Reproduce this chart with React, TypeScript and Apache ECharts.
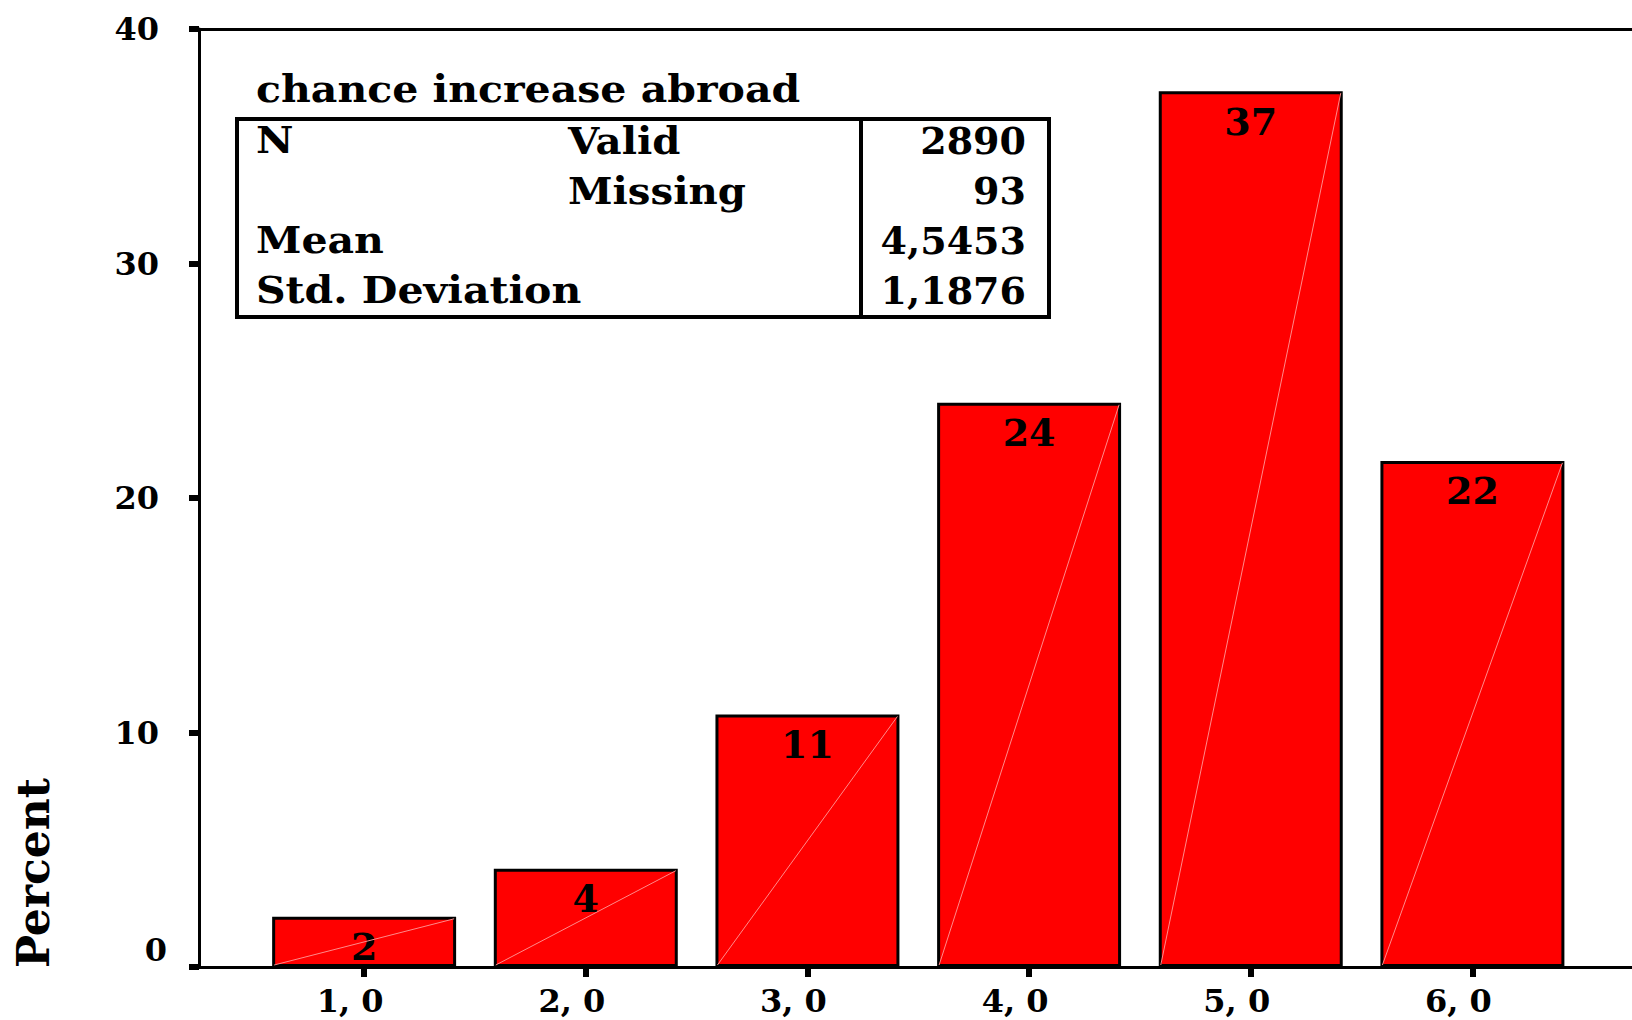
import React, { useEffect, useRef } from "react";
import * as echarts from "echarts";

const categories = [1, 2, 3, 4, 5, 6];
const categoryLabels = ["1, 0", "2, 0", "3, 0", "4, 0", "5, 0", "6, 0"];
const percents = [2.14, 4.19, 10.77, 24.06, 37.35, 21.58];
const barLabels = ["2", "4", "11", "24", "37", "22"];
const yTicks = [0, 10, 20, 30, 40];
const yAxisTitle = "Percent";
const statTitle = "chance increase abroad";
const statLabels = ["N", "", "Mean", "Std. Deviation"];
const statSubLabels = ["Valid", "Missing", "", ""];
const statValues = ["2890", "93", "4,5453", "1,1876"];

const FONT = "'DejaVu Serif', serif";

export default function App() {
  const ref = useRef<HTMLDivElement>(null);
  useEffect(() => {
    if (!ref.current) return;
    const chart = echarts.init(ref.current, null, { renderer: "svg" });
    const rowY = [140, 190, 240, 290];
    const tf = `bold 38px ${FONT}`;
    const graphics: any[] = [
      {
        type: "text",
        x: 33,
        y: 873,
        rotation: Math.PI / 2,
        style: {
          text: yAxisTitle,
          font: `bold 44px ${FONT}`,
          fill: "#000",
          align: "center",
          verticalAlign: "middle",
        },
      },
      {
        type: "text",
        x: 256,
        y: 89,
        scaleX: 1.08,
        style: { text: statTitle, font: tf, fill: "#000", align: "left", verticalAlign: "middle" },
      },
      {
        type: "rect",
        shape: { x: 237, y: 119, width: 812, height: 198 },
        style: { fill: "none", stroke: "#000", lineWidth: 4 },
      },
      {
        type: "line",
        shape: { x1: 861, y1: 119, x2: 861, y2: 317 },
        style: { stroke: "#000", lineWidth: 4 },
      },
    ];
    statLabels.forEach((t, i) => {
      if (t)
        graphics.push({
          type: "text",
          x: 256,
          y: rowY[i],
          scaleX: 1.08,
          style: { text: t, font: tf, fill: "#000", align: "left", verticalAlign: "middle" },
        });
      if (statSubLabels[i])
        graphics.push({
          type: "text",
          x: 568,
          y: rowY[i],
          scaleX: 1.06,
          style: { text: statSubLabels[i], font: tf, fill: "#000", align: "left", verticalAlign: "middle" },
        });
      graphics.push({
        type: "text",
        x: 1026,
        y: rowY[i],
        style: { text: statValues[i], font: tf, fill: "#000", align: "right", verticalAlign: "middle" },
      });
    });

    const labelFont = { fontFamily: FONT, fontWeight: "bold", fontSize: 32, color: "#000" };

    chart.setOption({
      animation: false,
      backgroundColor: "#fff",
      grid: {
        left: 199,
        top: 29,
        right: 0,
        bottom: 53,
        show: false,
        containLabel: false,
      },
      xAxis: [
        {
          type: "value",
          min: 0.255,
          max: 6.72,
          splitLine: { show: false },
          axisLine: { show: true, lineStyle: { color: "#000", width: 3 } },
          axisTick: {
            show: true,
            customValues: categories,
            length: 10,
            lineStyle: { color: "#000", width: 6 },
          },
          axisLabel: {
            customValues: categories,
            formatter: (v: number) => categoryLabels[categories.indexOf(v)] ?? "",
            ...labelFont,
            margin: 18,
            padding: [0, 28, 0, 0],
          },
        },
        {
          type: "value",
          position: "top",
          min: 0.255,
          max: 6.72,
          splitLine: { show: false },
          axisLine: { show: true, lineStyle: { color: "#000", width: 3 } },
          axisTick: { show: false },
          axisLabel: { show: false },
        },
      ],
      yAxis: {
        type: "value",
        min: yTicks[0],
        max: yTicks[yTicks.length - 1],
        interval: 10,
        splitLine: { show: false },
        axisLine: { show: true, lineStyle: { color: "#000", width: 3 } },
        axisTick: { show: true, length: 10, lineStyle: { color: "#000", width: 6 } },
        axisLabel: {
          ...labelFont,
          margin: 32,
          formatter: (v: number) => (v === 0 ? "{z|0}" : "{n|" + v + "}"),
          rich: {
            z: { ...labelFont, padding: [0, 0, 34, 0] },
            n: { ...labelFont, padding: [0, 8, 0, 0] },
          },
        },
      },
      series: [
        {
          type: "bar",
          xAxisIndex: 0,
          data: categories.map((c, i) => [c, percents[i]]),
          barWidth: "83%",
          itemStyle: { color: "#ff0000", borderColor: "#000", borderWidth: 3 },
          label: {
            show: true,
            position: "insideTop",
            distance: 11,
            formatter: (p: any) => barLabels[p.dataIndex],
            color: "#000",
            fontFamily: FONT,
            fontWeight: "bold",
            fontSize: 38,
          },
        },
        {
          type: "custom",
          xAxisIndex: 0,
          data: categories.map((c, i) => [c, percents[i]]),
          renderItem: (params: any, api: any) => {
            const x = api.value(0);
            const y = api.value(1);
            const w = api.size([1, 0])[0] * 0.83;
            const p0 = api.coord([x, 0]);
            const p1 = api.coord([x, y]);
            return {
              type: "line",
              shape: { x1: p0[0] - w / 2 + 2, y1: p0[1] - 2, x2: p1[0] + w / 2 - 2, y2: p1[1] + 2 },
              style: { stroke: "#ff8a8a", lineWidth: 1 },
              silent: true,
            };
          },
          z: 3,
        },
      ],
      graphic: graphics,
    });
    return () => chart.dispose();
  }, []);
  return (
    <div
      ref={ref}
      style={{ position: "absolute", left: 0, top: 0, width: 1632, height: 1020, background: "#fff" }}
    />
  );
}
